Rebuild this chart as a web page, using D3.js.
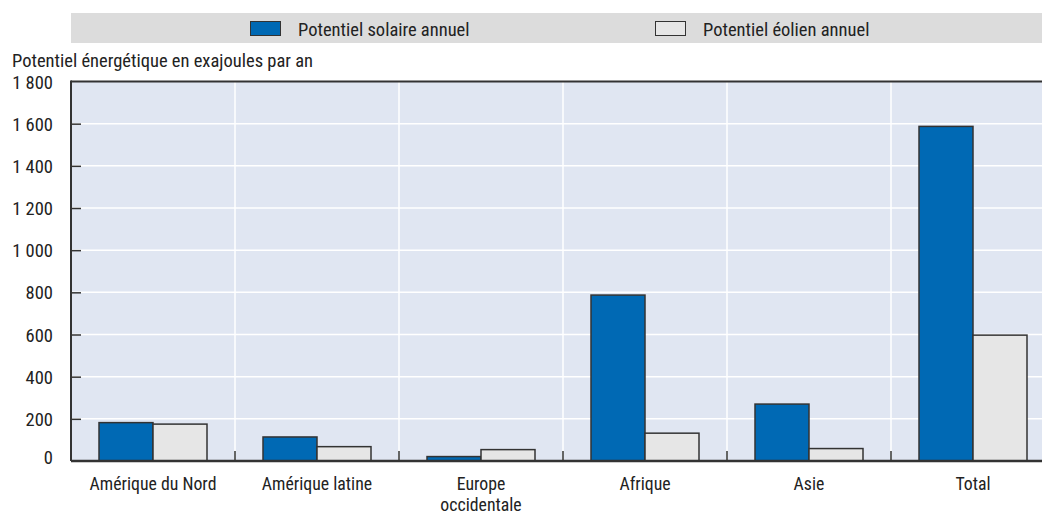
<!DOCTYPE html>
<html><head><meta charset="utf-8">
<script src="https://cdn.jsdelivr.net/npm/d3@7"></script>
<style>
body{margin:0;background:#fff;}
svg{display:block;font-family:"Liberation Sans Narrow","Arial Narrow","Roboto Condensed",sans-serif;}
</style></head><body>
<svg id="c" width="1042" height="515"></svg>
<script>
const categories = [["Amérique du Nord"],["Amérique latine"],["Europe","occidentale"],["Afrique"],["Asie"],["Total"]];
const seriesNames = ["Potentiel solaire annuel","Potentiel éolien annuel"];
const solar = [182, 114, 21, 787, 270, 1587];
const wind = [175, 68, 54, 132, 59, 597];
const yTicks = [0,200,400,600,800,1000,1200,1400,1600,1800];
const yTitle = "Potentiel énergétique en exajoules par an";
const colors = ["#0069b4","#e6e6e6"];

const svg = d3.select("#c");
const m = {l:71, t:81.5, r:1055, b:461};
const x = d3.scaleBand().domain(d3.range(categories.length)).range([m.l, m.r]);
const xs = d3.scaleBand().domain([0,1]).range([0,108]);
const y = d3.scaleLinear().domain([0,1800]).range([m.b, m.t]);
const fmt = v => d3.format(",")(v).replace(/,/g," ");
const FS = 18.5;

// legend
svg.append("rect").attr("x",71).attr("y",13).attr("width",1042-71).attr("height",30).attr("fill","#dcdcdc");
const legX = [250, 655];
seriesNames.forEach((n,i)=>{
  svg.append("rect").attr("x",legX[i]+0.5).attr("y",21.5).attr("width",30).attr("height",14)
    .attr("fill",colors[i]).attr("stroke","#333").attr("stroke-width",1);
  svg.append("text").attr("x",legX[i]+48).attr("y",35.5).attr("font-size",FS).attr("fill","#222").text(n);
});

// plot bg
svg.append("rect").attr("x",m.l).attr("y",m.t).attr("width",m.r-m.l).attr("height",m.b-m.t).attr("fill","#e0e6f2");
// horizontal grid
svg.append("g").selectAll("line").data(yTicks.slice(1,-1)).join("line")
  .attr("x1",m.l).attr("x2",m.r).attr("y1",d=>y(d)).attr("y2",d=>y(d))
  .attr("stroke","#fff").attr("stroke-width",1.5);
// vertical grid
const seps = d3.range(1,categories.length).map(i=>x(i));
svg.append("g").selectAll("line").data(seps).join("line")
  .attr("x1",d=>d).attr("x2",d=>d).attr("y1",m.t).attr("y2",m.b)
  .attr("stroke","#fff").attr("stroke-width",1.5);

// bars
const g = svg.append("g");
[solar, wind].forEach((vals,si)=>{
  g.selectAll(null).data(vals).join("rect")
    .attr("x",(d,i)=>x(i)+28+xs(si))
    .attr("y",d=>y(d))
    .attr("width",xs.bandwidth())
    .attr("height",d=>y(0)-y(d))
    .attr("fill",colors[si]).attr("stroke","#333").attr("stroke-width",1.5);
});

// y axis
const ya = svg.append("g").attr("transform",`translate(${m.l},0)`)
  .call(d3.axisRight(y).tickValues(yTicks.slice(1,-1)).tickSize(10).tickFormat(""));
ya.select(".domain").remove();
ya.selectAll("line").attr("stroke","#333").attr("stroke-width",1.5);
svg.append("g").selectAll("text").data(yTicks).join("text")
  .attr("x",53).attr("y",d=>y(d)+(d===0?3:7)).attr("text-anchor","end").attr("font-size",FS).attr("fill","#222").text(fmt);
svg.append("line").attr("x1",m.l).attr("x2",m.l).attr("y1",m.t-1).attr("y2",m.b).attr("stroke","#333").attr("stroke-width",2);
svg.append("line").attr("x1",m.l).attr("x2",m.r).attr("y1",m.t).attr("y2",m.t).attr("stroke","#333").attr("stroke-width",2);

// x axis
svg.append("g").selectAll("line").data(seps).join("line")
  .attr("x1",d=>d).attr("x2",d=>d).attr("y1",m.b-10).attr("y2",m.b).attr("stroke","#333").attr("stroke-width",1.5);
svg.append("line").attr("x1",m.l).attr("x2",m.r).attr("y1",m.b).attr("y2",m.b).attr("stroke","#333").attr("stroke-width",2.5);
const xl = svg.append("g").selectAll("text").data(categories).join("text")
  .attr("x",(d,i)=>x(i)+x.bandwidth()/2).attr("y",490).attr("text-anchor","middle").attr("font-size",17.8).attr("fill","#222");
xl.selectAll("tspan").data(d=>d).join("tspan").attr("x",function(){return this.parentNode.getAttribute("x");})
  .attr("dy",(d,i)=>i?20.5:0).text(d=>d);

svg.append("text").attr("x",12).attr("y",67).attr("font-size",FS).attr("fill","#222").text(yTitle);
</script></body></html>
